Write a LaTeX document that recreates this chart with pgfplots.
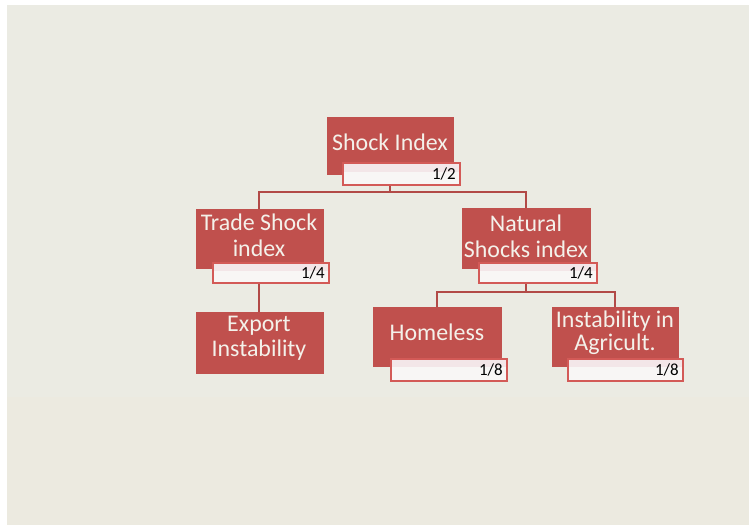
\documentclass[border=0pt]{standalone}
\usepackage{pgfplots}
\pgfplotsset{compat=1.18}
\usepackage{fontspec}
\setmainfont{Carlito}
\definecolor{bgA}{HTML}{EBEBE3}
\definecolor{bgB}{HTML}{ECEAE0}
\definecolor{boxred}{HTML}{C0504D}
\definecolor{lblborder}{HTML}{D35A57}
\definecolor{lbltop}{HTML}{F3E6E8}
\definecolor{lblbot}{HTML}{F8F6F5}
\definecolor{conn}{HTML}{B24A47}
\definecolor{boxtext}{HTML}{F4F1EA}
\begin{document}
\begin{tikzpicture}
\begin{axis}[
  at={(0,0)}, anchor=south west,
  width=749bp, height=525bp, scale only axis,
  xmin=0, xmax=749, ymin=0, ymax=525,
  y dir=reverse, hide axis, clip=false,
]
% background
\addplot[fill=white, draw=none] coordinates {(0,0) (749,0) (749,525) (0,525)} -- cycle;
\addplot[fill=bgA, draw=none] coordinates {(7,5) (749,5) (749,397) (7,397)} -- cycle;
\addplot[fill=bgB, draw=none] coordinates {(7,397) (749,397) (749,525) (7,525)} -- cycle;
% connectors
\addplot[conn, line width=1.6bp] coordinates {(390,184) (390,192)};
\addplot[conn, line width=1.6bp] coordinates {(259,209) (259,192) (526,192) (526,208)};
\addplot[conn, line width=1.6bp] coordinates {(259,283) (259,312)};
\addplot[conn, line width=1.6bp] coordinates {(526,283) (526,292)};
\addplot[conn, line width=1.6bp] coordinates {(437,307) (437,292) (615,292) (615,307)};
% main boxes
\addplot[fill=boxred, draw=boxred, line width=0.8bp] coordinates {(327,117) (453,117) (453,174) (327,174)} -- cycle;
\addplot[fill=boxred, draw=boxred, line width=0.8bp] coordinates {(196,209) (323,209) (323,268) (196,268)} -- cycle;
\addplot[fill=boxred, draw=boxred, line width=0.8bp] coordinates {(462,208) (590,208) (590,268) (462,268)} -- cycle;
\addplot[fill=boxred, draw=boxred, line width=0.8bp] coordinates {(196,312) (323,312) (323,373) (196,373)} -- cycle;
\addplot[fill=boxred, draw=boxred, line width=0.8bp] coordinates {(373,307) (501,307) (501,366) (373,366)} -- cycle;
\addplot[fill=boxred, draw=boxred, line width=0.8bp] coordinates {(552,307) (678,307) (678,366) (552,366)} -- cycle;
% label boxes (bottom part)
\addplot[fill=lblbot, draw=none] coordinates {(343,163) (460,163) (460,185) (343,185)} -- cycle;
\addplot[fill=lblbot, draw=none] coordinates {(213,263) (329,263) (329,283) (213,283)} -- cycle;
\addplot[fill=lblbot, draw=none] coordinates {(479,263) (597,263) (597,283) (479,283)} -- cycle;
\addplot[fill=lblbot, draw=none] coordinates {(391,359) (507,359) (507,381) (391,381)} -- cycle;
\addplot[fill=lblbot, draw=none] coordinates {(568,359) (683,359) (683,381) (568,381)} -- cycle;
% label boxes (pink top band)
\addplot[fill=lbltop, draw=none] coordinates {(343,163) (460,163) (460,172) (343,172)} -- cycle;
\addplot[fill=lbltop, draw=none] coordinates {(213,263) (329,263) (329,271) (213,271)} -- cycle;
\addplot[fill=lbltop, draw=none] coordinates {(479,263) (597,263) (597,271) (479,271)} -- cycle;
\addplot[fill=lbltop, draw=none] coordinates {(391,359) (507,359) (507,367) (391,367)} -- cycle;
\addplot[fill=lbltop, draw=none] coordinates {(568,359) (683,359) (683,367) (568,367)} -- cycle;
% label box borders
\addplot[draw=lblborder, line width=1.5bp] coordinates {(343,163) (460,163) (460,185) (343,185)} -- cycle;
\addplot[draw=lblborder, line width=1.5bp] coordinates {(213,263) (329,263) (329,283) (213,283)} -- cycle;
\addplot[draw=lblborder, line width=1.5bp] coordinates {(479,263) (597,263) (597,283) (479,283)} -- cycle;
\addplot[draw=lblborder, line width=1.5bp] coordinates {(391,359) (507,359) (507,381) (391,381)} -- cycle;
\addplot[draw=lblborder, line width=1.5bp] coordinates {(568,359) (683,359) (683,381) (568,381)} -- cycle;
% box titles
\addplot[draw=none, mark=none, nodes near coords, point meta=explicit symbolic,
  nodes near coords style={anchor=center, text=boxtext, font=\fontsize{24}{28}\selectfont, inner sep=0pt}]
  coordinates {
  (390,142) [Shock Index]
  (259,222) [Trade Shock]
  (259,248) [index]
  (526,223) [Natural]
  (526,249) [Shocks index]
  (259,326) [Export]
  (259,350) [Instability]
  (437,332) [Homeless]
  (615,321) [Instability in]
  (615,344) [Agricult.]
  };
% weights
\addplot[draw=none, mark=none, nodes near coords, point meta=explicit symbolic,
  nodes near coords style={anchor=east, text=black, font=\fontsize{17}{19}\selectfont, inner sep=0pt}]
  coordinates {
  (456,174) [1/2]
  (325,273) [1/4]
  (593,273) [1/4]
  (503,370) [1/8]
  (679,370) [1/8]
  };
\end{axis}
\end{tikzpicture}
\end{document}
